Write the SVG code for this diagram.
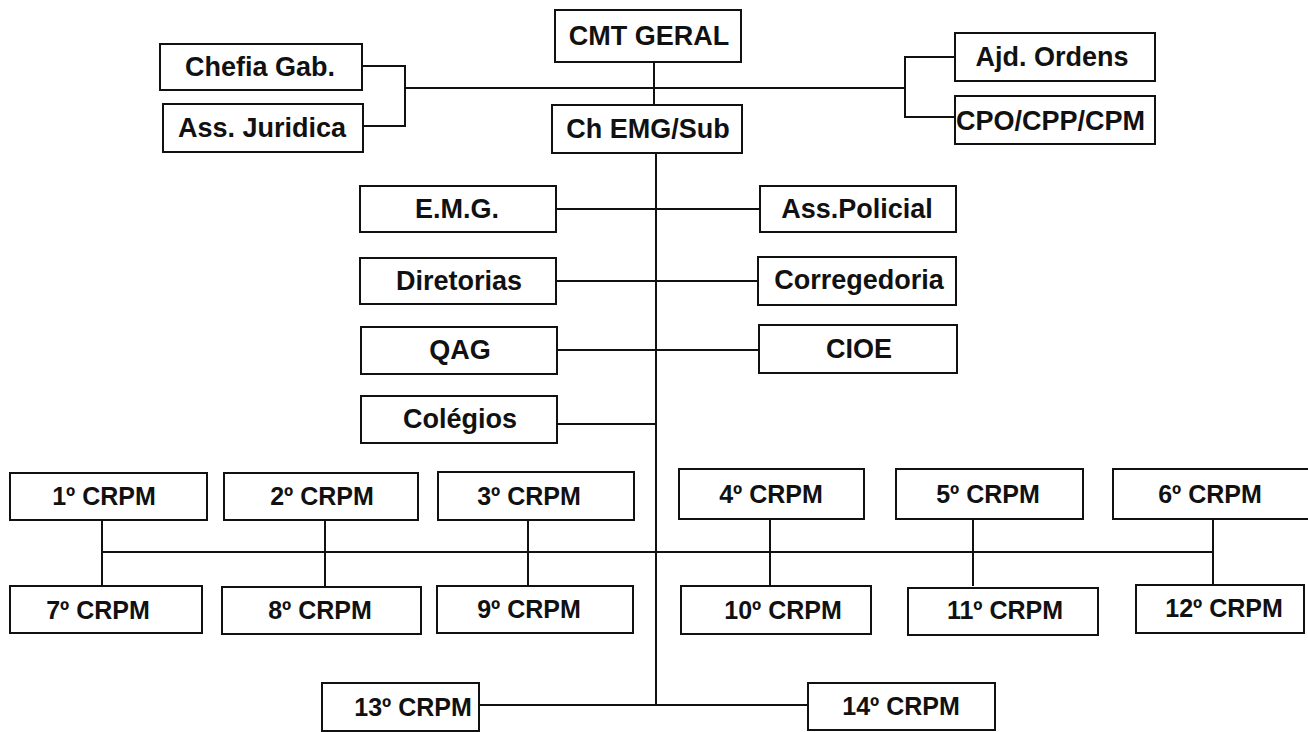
<svg xmlns="http://www.w3.org/2000/svg" width="1308" height="732" viewBox="0 0 1308 732">
<style>
.b{fill:#fff;stroke:#111;stroke-width:2}
.t{font-family:"Liberation Sans",Arial,sans-serif;font-weight:bold;font-size:27px;fill:#111;text-anchor:middle;dominant-baseline:central}
.r{font-size:25px}
.s{text-anchor:start}
.c{fill:none;stroke:#111;stroke-width:2}
</style>
<rect width="1308" height="732" fill="#fff"/>
<g id="connectors">
<path class="c" d="M405 88H905"/>
<path class="c" d="M362 66H405V126H363"/>
<path class="c" d="M955 57H905V117H955"/>
<path class="c" d="M654 62V105" stroke-width="1.5"/>
<path class="c" d="M656 153V705"/>
<path class="c" d="M556 209H760"/>
<path class="c" d="M556 281H758"/>
<path class="c" d="M557 350H759"/>
<path class="c" d="M557 424H656"/>
<path class="c" d="M102 552H1213"/>
<path class="c" d="M102 520V586M325 520V586M528 520V586M770 520V586M973 520V586M1213 520V586"/>
<path class="c" d="M479 705H808"/>
</g>
<g id="cmt"><rect class="b" x="555" y="10" width="186" height="52"/><text class="t" x="649" y="36">CMT GERAL</text></g>
<g id="chefia"><rect class="b" x="160" y="44" width="202" height="46"/><text class="t" x="260" y="67" font-size="28">Chefia Gab.</text></g>
<g id="assjur"><rect class="b" x="163" y="104" width="200" height="48"/><text class="t" x="262" y="128">Ass. Juridica</text></g>
<g id="ajd"><rect class="b" x="955" y="33" width="200" height="48"/><text class="t" x="1052" y="57">Ajd. Ordens</text></g>
<g id="cpo"><rect class="b" x="955" y="96" width="200" height="48"/><text class="t s" x="956" y="121" font-size="28">CPO/CPP/CPM</text></g>
<g id="chemg"><rect class="b" x="552" y="105" width="190" height="48"/><text class="t" x="648" y="129">Ch EMG/Sub</text></g>
<g id="emg"><rect class="b" x="360" y="186" width="196" height="46"/><text class="t" x="457" y="209">E.M.G.</text></g>
<g id="asspol"><rect class="b" x="760" y="186" width="196" height="46"/><text class="t" x="857" y="209">Ass.Policial</text></g>
<g id="diretorias"><rect class="b" x="360" y="258" width="196" height="46"/><text class="t" x="459" y="281">Diretorias</text></g>
<g id="corregedoria"><rect class="b" x="758" y="257" width="198" height="48"/><text class="t" x="859" y="280">Corregedoria</text></g>
<g id="qag"><rect class="b" x="361" y="327" width="196" height="47"/><text class="t" x="460" y="350">QAG</text></g>
<g id="cioe"><rect class="b" x="759" y="325" width="198" height="48"/><text class="t" x="859" y="349">CIOE</text></g>
<g id="colegios"><rect class="b" x="361" y="396" width="196" height="47"/><text class="t" x="460" y="419">Colégios</text></g>
<g id="crpm1"><rect class="b" x="10" y="473" width="197" height="47"/><text class="t r" x="104" y="496">1º CRPM</text></g>
<g id="crpm2"><rect class="b" x="224" y="473" width="194" height="47"/><text class="t r" x="322" y="496">2º CRPM</text></g>
<g id="crpm3"><rect class="b" x="438" y="472" width="196" height="48"/><text class="t r" x="529" y="496">3º CRPM</text></g>
<g id="crpm4"><rect class="b" x="679" y="469" width="185" height="50"/><text class="t r" x="771" y="494">4º CRPM</text></g>
<g id="crpm5"><rect class="b" x="896" y="469" width="187" height="50"/><text class="t r" x="988" y="494">5º CRPM</text></g>
<g id="crpm6"><rect class="b" x="1113" y="469" width="197" height="50"/><text class="t r" x="1210" y="494">6º CRPM</text></g>
<g id="crpm7"><rect class="b" x="10" y="586" width="192" height="47"/><text class="t r" x="98" y="610">7º CRPM</text></g>
<g id="crpm8"><rect class="b" x="222" y="587" width="199" height="47"/><text class="t r" x="320" y="610">8º CRPM</text></g>
<g id="crpm9"><rect class="b" x="437" y="586" width="196" height="47"/><text class="t r" x="529" y="609">9º CRPM</text></g>
<g id="crpm10"><rect class="b" x="681" y="586" width="190" height="48"/><text class="t r" x="783" y="610">10º CRPM</text></g>
<g id="crpm11"><rect class="b" x="908" y="588" width="190" height="47"/><text class="t r" x="1005" y="610">11º CRPM</text></g>
<g id="crpm12"><rect class="b" x="1136" y="585" width="168" height="48"/><text class="t r" x="1224" y="608">12º CRPM</text></g>
<g id="crpm13"><rect class="b" x="322" y="683" width="157" height="48"/><text class="t r" x="413" y="707" font-size="24">13º CRPM</text></g>
<g id="crpm14"><rect class="b" x="808" y="683" width="187" height="47"/><text class="t r" x="901" y="706" font-size="24">14º CRPM</text></g>
</svg>
